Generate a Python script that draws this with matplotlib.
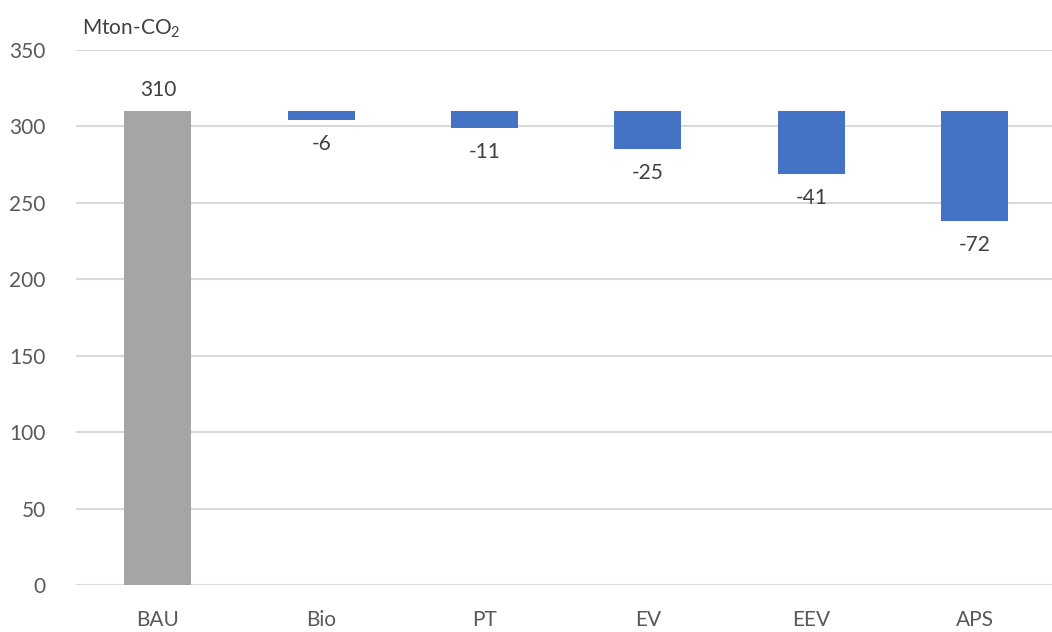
import matplotlib.pyplot as plt

categories = ['BAU', 'Bio', 'PT', 'EV', 'EEV', 'APS']
bau_value = 310
reductions = [-6, -11, -25, -41, -72]

plt.rcParams['font.family'] = ['Lato', 'DejaVu Sans']
plt.rcParams['mathtext.default'] = 'regular'

fig = plt.figure(figsize=(10.52, 6.32), dpi=100)
ax = fig.add_axes([0.0725, 0.0744, 0.9316, 0.8466])

x = list(range(len(categories)))
width = 0.41

# BAU bar
ax.bar(x[0], bau_value, width=width, color='#A5A5A5', zorder=3)
ax.text(x[0], bau_value + 7, str(bau_value), ha='center', va='bottom',
        fontsize=15, color='#404040')

# reduction bars hanging from BAU level
for xi, r in zip(x[1:], reductions):
    ax.bar(xi, r, bottom=bau_value, width=width, color='#4472C4', zorder=3)
    ax.text(xi, bau_value + r - 9, str(r), ha='center', va='top',
            fontsize=15, color='#404040')

ax.set_xlim(-0.5, len(categories) - 0.5)
ax.set_ylim(0, 350)
ax.set_yticks(range(0, 351, 50))
ax.set_xticks(x)
ax.set_xticklabels(categories)
ax.tick_params(axis='both', length=0, labelsize=15, labelcolor='#595959')
ax.tick_params(axis='y', pad=22)
ax.tick_params(axis='x', pad=18)
ax.yaxis.grid(True, color='#D9D9D9', linewidth=1.5, zorder=0)
for s in ax.spines.values():
    s.set_visible(False)

fig.text(0.078, 0.955, 'Mton-CO$_2$', fontsize=15, color='#404040',
         ha='left', va='center')

fig.savefig('out.png', dpi=100)
